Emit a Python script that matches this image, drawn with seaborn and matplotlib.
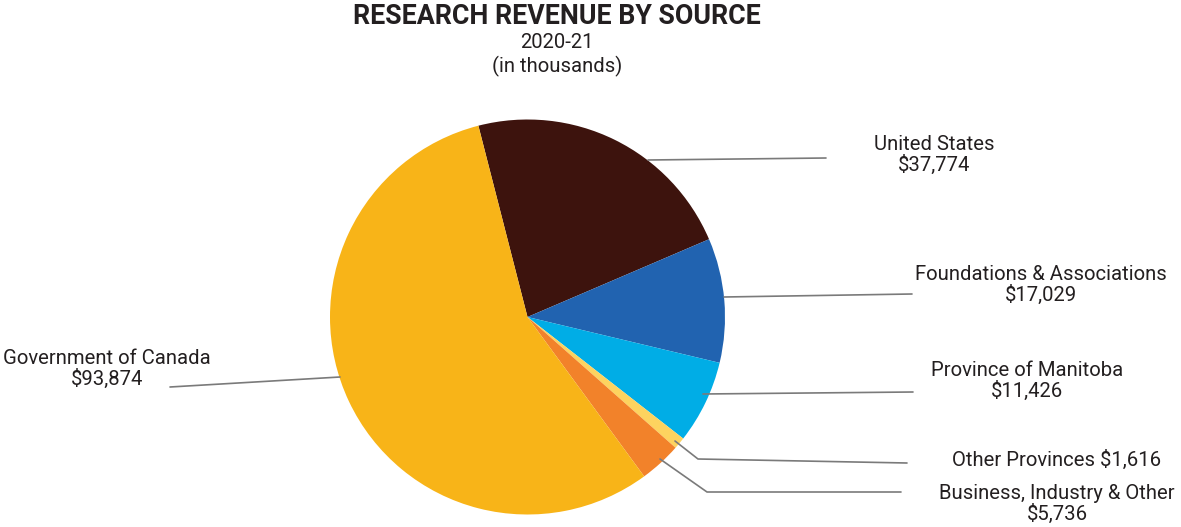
import matplotlib.pyplot as plt
import seaborn as sns

sources = ["United States", "Foundations & Associations", "Province of Manitoba",
           "Other Provinces", "Business, Industry & Other", "Government of Canada"]
values = [37774, 17029, 11426, 1616, 5736, 93874]
colors = ["#3d130d", "#2163b0", "#00ade6", "#fdd35f", "#f2822a", "#f8b418"]
label_texts = ["United States\n$37,774", "Foundations & Associations\n$17,029",
               "Province of Manitoba\n$11,426", "Other Provinces $1,616",
               "Business, Industry & Other\n$5,736", "Government of Canada\n$93,874"]

sns.set_theme(style="white")
plt.rcParams["font.family"] = ["Roboto", "DejaVu Sans"]

W, H = 1181, 527
fig = plt.figure(figsize=(W / 100, H / 100), dpi=100)
ax = fig.add_axes([0, 0, 1, 1])

def py(y):
    # pixel row -> data y
    return H - y

cx, cy, r = 527.5, 317, 197.5
ax.pie(values, colors=colors, startangle=104.4, counterclock=False,
       center=(cx, py(cy)), radius=r, frame=True,
       wedgeprops=dict(linewidth=0))
ax.set_xlim(0, W)
ax.set_ylim(0, H)
ax.set_aspect("equal")
ax.axis("off")

# leader lines (pixel coords) and label anchors
leaders = [
    [(648, 160), (826, 158)],
    [(724, 297), (912, 294)],
    [(703, 394), (913, 392)],
    [(675, 441), (698, 459), (907, 463)],
    [(660, 459), (707, 492), (901, 492)],
    [(340, 377), (170, 387)],
]
anchors = [(934, 155), (1041, 285), (1027, 381), (1057, 460), (1057, 504), (107, 369)]

for pts, (tx, ty), txt in zip(leaders, anchors, label_texts):
    ax.plot([p[0] for p in pts], [py(p[1]) for p in pts], color="#7a7a7a", lw=1.2)
    ax.text(tx, py(ty), txt, ha="center", va="center", fontsize=14.6,
            color="#231f20", linespacing=1.05)

ax.text(557, py(16), "RESEARCH REVENUE BY SOURCE", ha="center", va="center",
        fontsize=19.3, fontweight="bold", color="#231f20")
ax.text(557, py(42), "2020-21", ha="center", va="center", fontsize=14.6, color="#231f20")
ax.text(557, py(66), "(in thousands)", ha="center", va="center", fontsize=14.6, color="#231f20")

fig.savefig("out.png", dpi=100, facecolor="white")
